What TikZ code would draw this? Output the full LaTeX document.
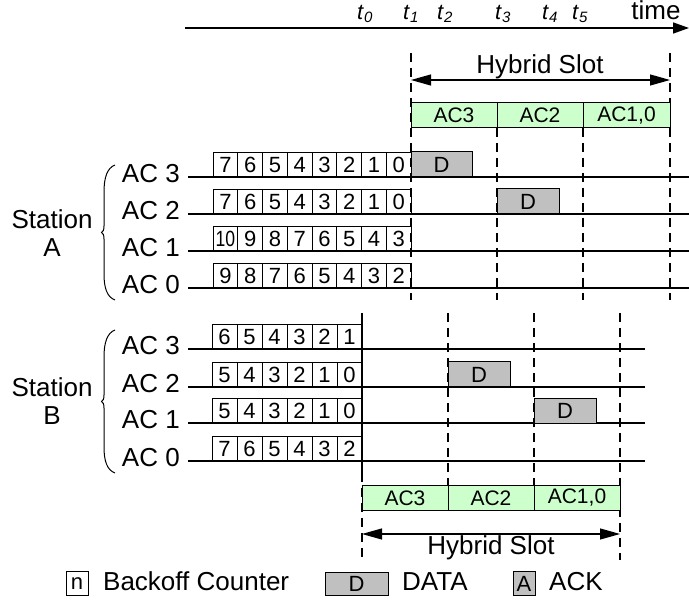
\documentclass[tikz,border=0pt]{standalone}
\usepackage{fontspec}
\setmainfont{Liberation Sans}
\usetikzlibrary{arrows.meta}
\definecolor{lgreen}{RGB}{204,255,204}
\definecolor{dgray}{RGB}{192,192,192}
\newcommand{\mytsub}[2]{\textit{#1}\raisebox{-3pt}{\fontsize{15}{15}\selectfont\itshape #2}}
\begin{document}
\begin{tikzpicture}[x=1pt,y=-1pt,
  every node/.style={inner sep=0pt,font=\fontsize{26}{28}\selectfont},
  ln/.style={line width=1.2pt},
  dsh/.style={line width=1.1pt,dash pattern=on 9pt off 6pt},
  cnt/.style={draw,line width=1pt,minimum width=24.75pt,minimum height=24pt,font=\fontsize{22}{24}\selectfont},
  dbox/.style={draw,line width=1pt,fill=dgray,minimum height=25pt,font=\fontsize{22}{24}\selectfont},
  gbox/.style={draw,line width=1pt,fill=lgreen,minimum height=25pt,minimum width=86pt,font=\fontsize{21}{24}\selectfont},
  tl/.style={anchor=base west,font=\fontsize{22}{24}\selectfont},
  acl/.style={anchor=base east},
  brace/.style={line width=1pt}
]
\useasboundingbox (0,0) rectangle (689,601);

% time axis
\coordinate (ax0) at (185,28);
\coordinate (ax1) at (689,28);
\draw[line width=1.5pt,-{Triangle[length=16pt,width=11pt]}] (ax0) -- (ax1);
\node[tl] (t0) at (357,20) {\mytsub{t}{0}};
\node[tl] (t1) at (403,20) {\mytsub{t}{1}};
\node[tl] (t2) at (437,20) {\mytsub{t}{2}};
\node[tl] (t3) at (495,20) {\mytsub{t}{3}};
\node[tl] (t4) at (542,20) {\mytsub{t}{4}};
\node[tl] (t5) at (572,20) {\mytsub{t}{5}};
\node[anchor=base] (time) at (656,20) {time};

% ---------- Station A ----------
\draw[dsh] (411,53) -- (411,300);
\draw[dsh] (670,53) -- (670,300);
\draw[dsh] (497,128) -- (497,300);
\draw[dsh] (583,128) -- (583,300);
\coordinate (ha) at (411,80);
\coordinate (hb) at (670,80);
\draw[ln,{Triangle[length=20pt,width=11pt]}-{Triangle[length=20pt,width=11pt]}] (ha) -- (hb);
\node[anchor=base] (hsA) at (540,74) {Hybrid Slot};
\node[gbox] (gA3) at (454,115.5) {AC3};
\node[gbox] (gA2) at (540,115.5) {AC2};
\node[gbox,minimum width=87pt] (gA1) at (626.5,115.5) {AC1,0};

\foreach \y/\lab in {177/AC 3,214/AC 2,251/AC 1,288/AC 0}{
  \draw[ln] (188,\y) -- (689,\y);
  \node[acl] at (180,\y+6) {\lab};
}
\foreach \v [count=\i] in {7,6,5,4,3,2,1,0}
  \node[cnt] at ({213+24.75*(\i-0.5)},165) {\v};
\foreach \v [count=\i] in {7,6,5,4,3,2,1,0}
  \node[cnt] at ({213+24.75*(\i-0.5)},202) {\v};
\foreach \v [count=\i] in {\scalebox{0.8}[1]{10},9,8,7,6,5,4,3}
  \node[cnt] at ({213+24.75*(\i-0.5)},239) {\v};
\foreach \v [count=\i] in {9,8,7,6,5,4,3,2}
  \node[cnt] at ({213+24.75*(\i-0.5)},276) {\v};
\node[dbox,minimum width=61pt] (dA3) at (441.5,164.5) {D};
\node[dbox,minimum width=62pt] (dA2) at (528,201.5) {D};

\draw[brace] (115,165) .. controls (107,168) and (104,178) .. (104,192) -- (104,226)
  .. controls (104,230) and (103,232) .. (101.5,232.5)
  .. controls (103,233) and (104,235) .. (104,239) -- (104,274)
  .. controls (104,288) and (107,297) .. (115,300);
\node[align=center] (stA) at (52,233) {Station\\A};

% ---------- Station B ----------
\draw[dsh] (362,473) -- (362,560);
\draw[dsh] (620,313) -- (620,560);
\draw[dsh] (448,313) -- (448,485);
\draw[dsh] (534,313) -- (534,485);
\draw[ln] (362,313) -- (362,473);

\foreach \y/\lab in {349/AC 3,387/AC 2,423/AC 1,461/AC 0}{
  \draw[ln] (188,\y) -- (645,\y);
  \node[acl] at (180,\y+6) {\lab};
}
\foreach \v [count=\i] in {6,5,4,3,2,1}
  \node[cnt,minimum width=25pt] at ({212+25*(\i-0.5)},337) {\v};
\foreach \v [count=\i] in {5,4,3,2,1,0}
  \node[cnt,minimum width=25pt] at ({212+25*(\i-0.5)},375) {\v};
\foreach \v [count=\i] in {5,4,3,2,1,0}
  \node[cnt,minimum width=25pt] at ({212+25*(\i-0.5)},411) {\v};
\foreach \v [count=\i] in {7,6,5,4,3,2}
  \node[cnt,minimum width=25pt] at ({212+25*(\i-0.5)},449) {\v};
\node[dbox,minimum width=62pt] (dB2) at (479,374.5) {D};
\node[dbox,minimum width=62pt] (dB1) at (565,411) {D};

\draw[brace] (115,330) .. controls (107,333) and (104,343) .. (104,357) -- (104,395)
  .. controls (104,399) and (103,401) .. (101.5,401.5)
  .. controls (103,402) and (104,404) .. (104,408) -- (104,447)
  .. controls (104,461) and (107,470) .. (115,473);
\node[align=center] (stB) at (52,401) {Station\\B};

\node[gbox] (gB3) at (405,498) {AC3};
\node[gbox] (gB2) at (491,498) {AC2};
\node[gbox] (gB1) at (577,498) {AC1,0};
\coordinate (hc) at (362,534);
\coordinate (hd) at (620,534);
\draw[ln,{Triangle[length=20pt,width=11pt]}-{Triangle[length=20pt,width=11pt]}] (hc) -- (hd);
\node[anchor=base] (hsB) at (491,555) {Hybrid Slot};

% ---------- legend ----------
\node[draw,line width=1pt,minimum width=22pt,minimum height=24pt,font=\fontsize{22}{24}\selectfont] (lgn) at (77,584) {n};
\node[anchor=base west] (lgnt) at (103,591) {Backoff Counter};
\node[dbox,minimum width=63pt,minimum height=23pt] (lgd) at (356.5,584) {D};
\node[anchor=base west] (lgdt) at (402,591) {DATA};
\node[draw,line width=1pt,fill=dgray,minimum width=22pt,minimum height=24pt,font=\fontsize{22}{24}\selectfont] (lga) at (524,584) {A};
\node[anchor=base west] (lgat) at (549,591) {ACK};
\end{tikzpicture}
\end{document}
